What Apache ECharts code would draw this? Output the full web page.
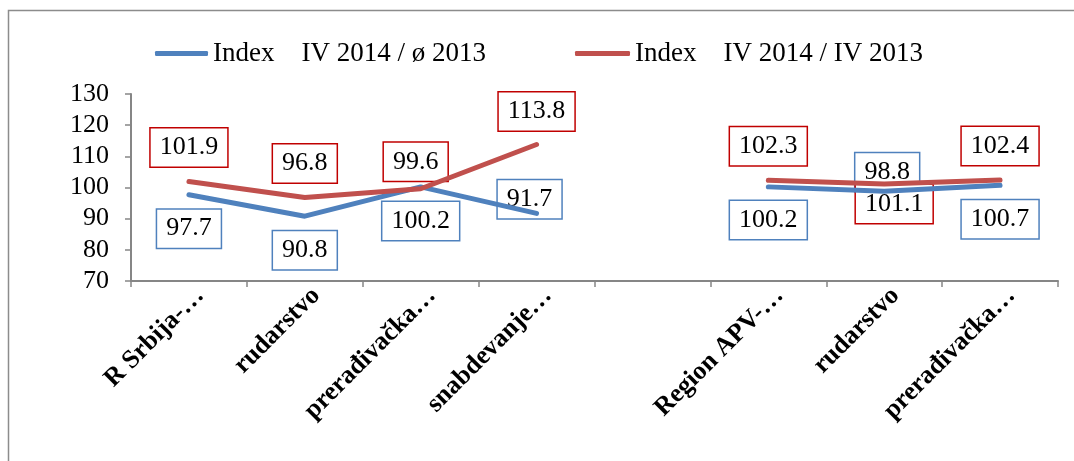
<!DOCTYPE html>
<html>
<head>
<meta charset="utf-8">
<title>Index</title>
<script src="https://cdn.jsdelivr.net/npm/echarts@6/dist/echarts.min.js"></script>
<style>
  html, body { margin: 0; padding: 0; background: #fff; }
  #main { width: 1074px; height: 461px; }
</style>
</head>
<body>
<div id="main"></div>
<script>
// kategorije (prazno mesto razdvaja Srbiju i region)
var categories = ['R Srbija-…', 'rudarstvo', 'prerađivačka…', 'snabdevanje…', '', 'Region APV-…', 'rudarstvo', 'prerađivačka…'];
var seriesNames = ['Index    IV 2014 / ø 2013', 'Index    IV 2014 / IV 2013'];
var indexAvg = [97.7, 90.8, 100.2, 91.7, null, 100.2, 98.8, 100.7];
var indexPrev = [101.9, 96.8, 99.6, 113.8, null, 102.3, 101.1, 102.4];
var yTicks = [70, 80, 90, 100, 110, 120, 130];

// pomeraj natpisa u odnosu na tačku
var avgLabelShift = [[0, 34], [0, 34], [0, 34], [-7, -14], [0, 0], [0, 33], [3, -19], [0, 34]];
var prevLabelShift = [[0, -34], [0, -34], [-5, -27], [0, -33], [0, 0], [0, -34], [10, 20], [0, -34]];

var serif = '"Liberation Serif", "Times New Roman", serif';
var blue = '#4F81BD';
var red = '#C0504D';

function withLabels(values, shifts) {
  return values.map(function (v, i) {
    return { value: v, label: { offset: shifts[i] } };
  });
}

// serija samo za natpise (ispod linija, kao u Excelu)
function labelSeries(name, values, shifts, border) {
  return {
    name: name,
    type: 'line',
    z: 1,
    data: withLabels(values, shifts),
    showSymbol: true,
    symbol: 'circle',
    symbolSize: 0,
    lineStyle: { opacity: 0 },
    silent: true,
    label: {
      show: true,
      position: 'inside',
      color: '#000',
      fontFamily: serif,
      fontSize: 26,
      lineHeight: 30,
      backgroundColor: '#fff',
      borderColor: border,
      borderWidth: 1.5,
      padding: [4, 9, 4, 9],
    },
  };
}

function lineSeries(name, values, color) {
  return {
    name: name,
    type: 'line',
    z: 5,
    data: values,
    showSymbol: false,
    symbol: 'none',
    connectNulls: false,
    color: color,
    lineStyle: { width: 5, color: color, cap: 'round' },
  };
}

var legendText = { fontFamily: serif, fontSize: 27, color: '#000' };

var myChart = echarts.init(document.getElementById('main'));

myChart.setOption({
  animation: false,
  backgroundColor: '#fff',
  textStyle: { fontFamily: serif },
  graphic: [
    {
      type: 'rect',
      z: -1,
      shape: { x: 8.5, y: 10.5, width: 1200, height: 600 },
      style: { fill: 'none', stroke: '#8c8c8c', lineWidth: 1.5 },
    },
  ],
  legend: [
    {
      left: 150,
      top: 35,
      itemWidth: 53,
      itemHeight: 5,
      icon: 'roundRect',
      textStyle: legendText,
      data: [seriesNames[0]],
    },
    {
      left: 570,
      top: 35,
      itemWidth: 55,
      itemHeight: 5,
      icon: 'roundRect',
      textStyle: legendText,
      data: [seriesNames[1]],
    },
  ],
  grid: {
    left: 131,
    right: 16,
    top: 94,
    bottom: 180,
  },
  xAxis: {
    type: 'category',
    data: categories,
    boundaryGap: true,
    axisLine: { lineStyle: { color: '#868686', width: 2 } },
    axisTick: { show: true, length: 6, lineStyle: { color: '#868686', width: 1.5 } },
    axisLabel: {
      rotate: 45,
      margin: 22,
      interval: 0,
      color: '#000',
      fontFamily: serif,
      fontWeight: 'bold',
      fontSize: 26,
      padding: [0, -16, 0, 0],
    },
  },
  yAxis: {
    type: 'value',
    min: yTicks[0],
    max: yTicks[yTicks.length - 1],
    interval: 10,
    splitLine: { show: false },
    axisLine: { show: true, lineStyle: { color: '#868686', width: 2 } },
    axisTick: { show: true, length: 6, lineStyle: { color: '#868686', width: 1.5 } },
    axisLabel: { color: '#000', fontFamily: serif, fontSize: 26, margin: 22 },
  },
  series: [
    labelSeries('natpis1', indexAvg, avgLabelShift, blue),
    labelSeries('natpis2', indexPrev, prevLabelShift, '#C00000'),
    lineSeries(seriesNames[0], indexAvg, blue),
    lineSeries(seriesNames[1], indexPrev, red),
  ],
});

window.addEventListener('resize', function () {
  myChart.resize();
});
</script>
</body>
</html>
